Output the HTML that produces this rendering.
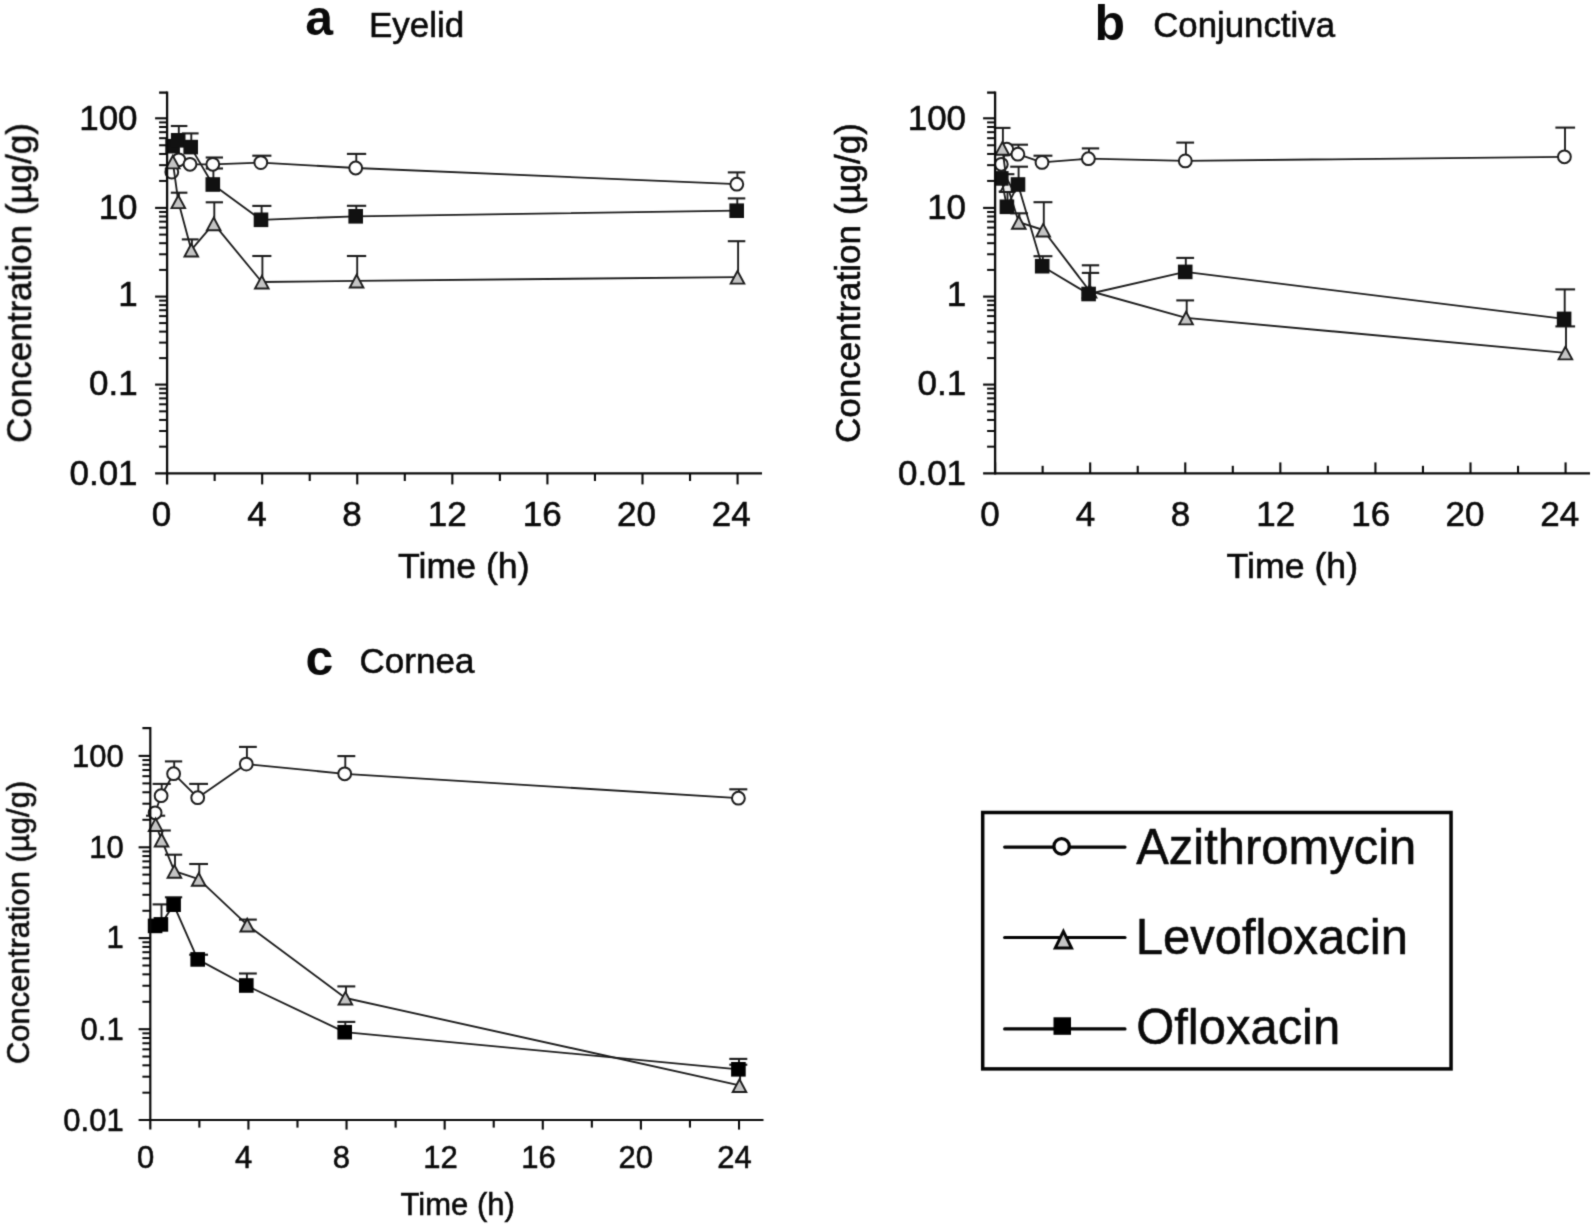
<!DOCTYPE html>
<html lang="en"><head><meta charset="utf-8"><title>Ocular tissue concentrations</title>
<style>
html,body{margin:0;padding:0;background:#fff;}
body{width:1595px;height:1226px;overflow:hidden;}
svg{display:block;font-family:'Liberation Sans', Arial, sans-serif;fill:#0a0a0a;}
svg text{fill:#0a0a0a;stroke:#0a0a0a;stroke-width:0.55px;}
</style></head><body>
<svg width="1595" height="1226" viewBox="0 0 1595 1226">
<defs><filter id="soft" x="0" y="0" width="1595" height="1226" filterUnits="userSpaceOnUse" color-interpolation-filters="sRGB"><feConvolveMatrix order="3" kernelMatrix="1 4 1 4 20 4 1 4 1" divisor="40" edgeMode="duplicate" preserveAlpha="false"/></filter></defs>
<rect width="1595" height="1226" fill="#fff"/>
<g filter="url(#soft)">
<line x1="213.40" y1="164.30" x2="213.40" y2="157.50" stroke="#1c1c1c" stroke-width="1.9" stroke-linecap="butt"/>
<line x1="205.70" y1="157.50" x2="223.00" y2="157.50" stroke="#1c1c1c" stroke-width="2.1" stroke-linecap="butt"/>
<line x1="261.40" y1="162.60" x2="261.40" y2="155.70" stroke="#1c1c1c" stroke-width="1.9" stroke-linecap="butt"/>
<line x1="252.30" y1="155.70" x2="271.40" y2="155.70" stroke="#1c1c1c" stroke-width="2.1" stroke-linecap="butt"/>
<line x1="356.30" y1="168.00" x2="356.30" y2="153.90" stroke="#1c1c1c" stroke-width="1.9" stroke-linecap="butt"/>
<line x1="346.90" y1="153.90" x2="366.20" y2="153.90" stroke="#1c1c1c" stroke-width="2.1" stroke-linecap="butt"/>
<line x1="737.40" y1="184.20" x2="737.40" y2="172.40" stroke="#1c1c1c" stroke-width="1.9" stroke-linecap="butt"/>
<line x1="727.80" y1="172.40" x2="745.30" y2="172.40" stroke="#1c1c1c" stroke-width="2.1" stroke-linecap="butt"/>
<line x1="178.90" y1="201.60" x2="178.90" y2="192.70" stroke="#1c1c1c" stroke-width="1.9" stroke-linecap="butt"/>
<line x1="170.80" y1="192.70" x2="187.40" y2="192.70" stroke="#1c1c1c" stroke-width="2.1" stroke-linecap="butt"/>
<line x1="191.90" y1="249.90" x2="191.90" y2="239.40" stroke="#1c1c1c" stroke-width="1.9" stroke-linecap="butt"/>
<line x1="181.80" y1="239.40" x2="198.60" y2="239.40" stroke="#1c1c1c" stroke-width="2.1" stroke-linecap="butt"/>
<line x1="214.30" y1="223.70" x2="214.30" y2="202.30" stroke="#1c1c1c" stroke-width="1.9" stroke-linecap="butt"/>
<line x1="205.70" y1="202.30" x2="223.00" y2="202.30" stroke="#1c1c1c" stroke-width="2.1" stroke-linecap="butt"/>
<line x1="262.40" y1="282.00" x2="262.40" y2="256.00" stroke="#1c1c1c" stroke-width="1.9" stroke-linecap="butt"/>
<line x1="252.30" y1="256.00" x2="271.40" y2="256.00" stroke="#1c1c1c" stroke-width="2.1" stroke-linecap="butt"/>
<line x1="357.20" y1="280.90" x2="357.20" y2="256.00" stroke="#1c1c1c" stroke-width="1.9" stroke-linecap="butt"/>
<line x1="346.90" y1="256.00" x2="366.20" y2="256.00" stroke="#1c1c1c" stroke-width="2.1" stroke-linecap="butt"/>
<line x1="738.10" y1="277.10" x2="738.10" y2="241.20" stroke="#1c1c1c" stroke-width="1.9" stroke-linecap="butt"/>
<line x1="727.80" y1="241.20" x2="745.30" y2="241.20" stroke="#1c1c1c" stroke-width="2.1" stroke-linecap="butt"/>
<line x1="178.80" y1="140.30" x2="178.80" y2="126.00" stroke="#1c1c1c" stroke-width="1.9" stroke-linecap="butt"/>
<line x1="170.80" y1="126.00" x2="187.40" y2="126.00" stroke="#1c1c1c" stroke-width="2.1" stroke-linecap="butt"/>
<line x1="191.30" y1="147.10" x2="191.30" y2="133.40" stroke="#1c1c1c" stroke-width="1.9" stroke-linecap="butt"/>
<line x1="181.80" y1="133.40" x2="198.60" y2="133.40" stroke="#1c1c1c" stroke-width="2.1" stroke-linecap="butt"/>
<line x1="213.40" y1="184.50" x2="213.40" y2="168.50" stroke="#1c1c1c" stroke-width="1.9" stroke-linecap="butt"/>
<line x1="205.70" y1="168.50" x2="223.00" y2="168.50" stroke="#1c1c1c" stroke-width="2.1" stroke-linecap="butt"/>
<line x1="261.60" y1="219.80" x2="261.60" y2="205.90" stroke="#1c1c1c" stroke-width="1.9" stroke-linecap="butt"/>
<line x1="252.30" y1="205.90" x2="271.40" y2="205.90" stroke="#1c1c1c" stroke-width="2.1" stroke-linecap="butt"/>
<line x1="356.30" y1="216.30" x2="356.30" y2="205.80" stroke="#1c1c1c" stroke-width="1.9" stroke-linecap="butt"/>
<line x1="346.90" y1="205.80" x2="366.20" y2="205.80" stroke="#1c1c1c" stroke-width="2.1" stroke-linecap="butt"/>
<line x1="737.30" y1="210.70" x2="737.30" y2="198.40" stroke="#1c1c1c" stroke-width="1.9" stroke-linecap="butt"/>
<line x1="727.80" y1="198.40" x2="745.30" y2="198.40" stroke="#1c1c1c" stroke-width="2.1" stroke-linecap="butt"/>
<polyline points="171.80,172.10 178.80,159.80 190.00,164.30 212.80,164.30 260.80,162.60 355.70,168.00 736.80,184.20" fill="none" stroke="#1c1c1c" stroke-width="1.85" stroke-linejoin="round"/>
<circle cx="171.80" cy="172.10" r="6.4" fill="#fff" stroke="#1c1c1c" stroke-width="2.0"/>
<circle cx="178.80" cy="159.80" r="6.4" fill="#fff" stroke="#1c1c1c" stroke-width="2.0"/>
<circle cx="190.00" cy="164.30" r="6.4" fill="#fff" stroke="#1c1c1c" stroke-width="2.0"/>
<circle cx="212.80" cy="164.30" r="6.4" fill="#fff" stroke="#1c1c1c" stroke-width="2.0"/>
<circle cx="260.80" cy="162.60" r="6.4" fill="#fff" stroke="#1c1c1c" stroke-width="2.0"/>
<circle cx="355.70" cy="168.00" r="6.4" fill="#fff" stroke="#1c1c1c" stroke-width="2.0"/>
<circle cx="736.80" cy="184.20" r="6.4" fill="#fff" stroke="#1c1c1c" stroke-width="2.0"/>
<polyline points="172.80,161.80 178.30,201.60 191.30,249.90 213.70,223.70 261.80,282.00 356.60,280.90 737.50,277.10" fill="none" stroke="#1c1c1c" stroke-width="1.85" stroke-linejoin="round"/>
<polygon points="172.80,155.70 166.00,168.35 179.60,168.35" fill="#c4c4c4" stroke="#1c1c1c" stroke-width="1.9" stroke-linejoin="miter"/>
<polygon points="178.30,195.50 171.50,208.15 185.10,208.15" fill="#c4c4c4" stroke="#1c1c1c" stroke-width="1.9" stroke-linejoin="miter"/>
<polygon points="191.30,243.80 184.50,256.45 198.10,256.45" fill="#c4c4c4" stroke="#1c1c1c" stroke-width="1.9" stroke-linejoin="miter"/>
<polygon points="213.70,217.60 206.90,230.25 220.50,230.25" fill="#c4c4c4" stroke="#1c1c1c" stroke-width="1.9" stroke-linejoin="miter"/>
<polygon points="261.80,275.90 255.00,288.55 268.60,288.55" fill="#c4c4c4" stroke="#1c1c1c" stroke-width="1.9" stroke-linejoin="miter"/>
<polygon points="356.60,274.80 349.80,287.45 363.40,287.45" fill="#c4c4c4" stroke="#1c1c1c" stroke-width="1.9" stroke-linejoin="miter"/>
<polygon points="737.50,271.00 730.70,283.65 744.30,283.65" fill="#c4c4c4" stroke="#1c1c1c" stroke-width="1.9" stroke-linejoin="miter"/>
<polyline points="172.60,146.20 178.20,140.30 190.70,147.10 212.80,184.50 261.00,219.80 355.70,216.30 736.70,210.70" fill="none" stroke="#1c1c1c" stroke-width="1.85" stroke-linejoin="round"/>
<rect x="165.30" y="138.90" width="14.6" height="14.6" fill="#111"/>
<rect x="170.90" y="133.00" width="14.6" height="14.6" fill="#111"/>
<rect x="183.40" y="139.80" width="14.6" height="14.6" fill="#111"/>
<rect x="205.50" y="177.20" width="14.6" height="14.6" fill="#111"/>
<rect x="253.70" y="212.50" width="14.6" height="14.6" fill="#111"/>
<rect x="348.40" y="209.00" width="14.6" height="14.6" fill="#111"/>
<rect x="729.40" y="203.40" width="14.6" height="14.6" fill="#111"/>
<line x1="167.10" y1="91.45" x2="167.10" y2="484.40" stroke="#0a0a0a" stroke-width="2.3" stroke-linecap="butt"/>
<line x1="155.10" y1="473.40" x2="762.00" y2="473.40" stroke="#0a0a0a" stroke-width="2.3" stroke-linecap="butt"/>
<line x1="159.10" y1="92.60" x2="167.10" y2="92.60" stroke="#0a0a0a" stroke-width="2.3" stroke-linecap="butt"/>
<line x1="155.10" y1="118.30" x2="167.10" y2="118.30" stroke="#0a0a0a" stroke-width="2.1" stroke-linecap="butt"/>
<line x1="159.10" y1="180.93" x2="167.10" y2="180.93" stroke="#0a0a0a" stroke-width="2.0" stroke-linecap="butt"/>
<line x1="159.10" y1="165.15" x2="167.10" y2="165.15" stroke="#0a0a0a" stroke-width="2.0" stroke-linecap="butt"/>
<line x1="159.10" y1="153.96" x2="167.10" y2="153.96" stroke="#0a0a0a" stroke-width="2.0" stroke-linecap="butt"/>
<line x1="159.10" y1="145.27" x2="167.10" y2="145.27" stroke="#0a0a0a" stroke-width="2.0" stroke-linecap="butt"/>
<line x1="159.10" y1="138.18" x2="167.10" y2="138.18" stroke="#0a0a0a" stroke-width="2.0" stroke-linecap="butt"/>
<line x1="159.10" y1="132.18" x2="167.10" y2="132.18" stroke="#0a0a0a" stroke-width="2.0" stroke-linecap="butt"/>
<line x1="159.10" y1="126.98" x2="167.10" y2="126.98" stroke="#0a0a0a" stroke-width="2.0" stroke-linecap="butt"/>
<line x1="159.10" y1="122.40" x2="167.10" y2="122.40" stroke="#0a0a0a" stroke-width="2.0" stroke-linecap="butt"/>
<line x1="155.10" y1="207.90" x2="167.10" y2="207.90" stroke="#0a0a0a" stroke-width="2.1" stroke-linecap="butt"/>
<line x1="159.10" y1="269.90" x2="167.10" y2="269.90" stroke="#0a0a0a" stroke-width="2.0" stroke-linecap="butt"/>
<line x1="159.10" y1="254.28" x2="167.10" y2="254.28" stroke="#0a0a0a" stroke-width="2.0" stroke-linecap="butt"/>
<line x1="159.10" y1="243.20" x2="167.10" y2="243.20" stroke="#0a0a0a" stroke-width="2.0" stroke-linecap="butt"/>
<line x1="159.10" y1="234.60" x2="167.10" y2="234.60" stroke="#0a0a0a" stroke-width="2.0" stroke-linecap="butt"/>
<line x1="159.10" y1="227.58" x2="167.10" y2="227.58" stroke="#0a0a0a" stroke-width="2.0" stroke-linecap="butt"/>
<line x1="159.10" y1="221.64" x2="167.10" y2="221.64" stroke="#0a0a0a" stroke-width="2.0" stroke-linecap="butt"/>
<line x1="159.10" y1="216.50" x2="167.10" y2="216.50" stroke="#0a0a0a" stroke-width="2.0" stroke-linecap="butt"/>
<line x1="159.10" y1="211.96" x2="167.10" y2="211.96" stroke="#0a0a0a" stroke-width="2.0" stroke-linecap="butt"/>
<line x1="155.10" y1="296.60" x2="167.10" y2="296.60" stroke="#0a0a0a" stroke-width="2.1" stroke-linecap="butt"/>
<line x1="159.10" y1="358.11" x2="167.10" y2="358.11" stroke="#0a0a0a" stroke-width="2.0" stroke-linecap="butt"/>
<line x1="159.10" y1="342.61" x2="167.10" y2="342.61" stroke="#0a0a0a" stroke-width="2.0" stroke-linecap="butt"/>
<line x1="159.10" y1="331.62" x2="167.10" y2="331.62" stroke="#0a0a0a" stroke-width="2.0" stroke-linecap="butt"/>
<line x1="159.10" y1="323.09" x2="167.10" y2="323.09" stroke="#0a0a0a" stroke-width="2.0" stroke-linecap="butt"/>
<line x1="159.10" y1="316.12" x2="167.10" y2="316.12" stroke="#0a0a0a" stroke-width="2.0" stroke-linecap="butt"/>
<line x1="159.10" y1="310.23" x2="167.10" y2="310.23" stroke="#0a0a0a" stroke-width="2.0" stroke-linecap="butt"/>
<line x1="159.10" y1="305.13" x2="167.10" y2="305.13" stroke="#0a0a0a" stroke-width="2.0" stroke-linecap="butt"/>
<line x1="159.10" y1="300.63" x2="167.10" y2="300.63" stroke="#0a0a0a" stroke-width="2.0" stroke-linecap="butt"/>
<line x1="155.10" y1="384.60" x2="167.10" y2="384.60" stroke="#0a0a0a" stroke-width="2.1" stroke-linecap="butt"/>
<line x1="159.10" y1="446.67" x2="167.10" y2="446.67" stroke="#0a0a0a" stroke-width="2.0" stroke-linecap="butt"/>
<line x1="159.10" y1="431.03" x2="167.10" y2="431.03" stroke="#0a0a0a" stroke-width="2.0" stroke-linecap="butt"/>
<line x1="159.10" y1="419.94" x2="167.10" y2="419.94" stroke="#0a0a0a" stroke-width="2.0" stroke-linecap="butt"/>
<line x1="159.10" y1="411.33" x2="167.10" y2="411.33" stroke="#0a0a0a" stroke-width="2.0" stroke-linecap="butt"/>
<line x1="159.10" y1="404.30" x2="167.10" y2="404.30" stroke="#0a0a0a" stroke-width="2.0" stroke-linecap="butt"/>
<line x1="159.10" y1="398.36" x2="167.10" y2="398.36" stroke="#0a0a0a" stroke-width="2.0" stroke-linecap="butt"/>
<line x1="159.10" y1="393.21" x2="167.10" y2="393.21" stroke="#0a0a0a" stroke-width="2.0" stroke-linecap="butt"/>
<line x1="159.10" y1="388.66" x2="167.10" y2="388.66" stroke="#0a0a0a" stroke-width="2.0" stroke-linecap="butt"/>
<line x1="214.64" y1="473.40" x2="214.64" y2="481.00" stroke="#0a0a0a" stroke-width="2.1" stroke-linecap="butt"/>
<line x1="262.18" y1="473.40" x2="262.18" y2="484.40" stroke="#0a0a0a" stroke-width="2.1" stroke-linecap="butt"/>
<line x1="309.72" y1="473.40" x2="309.72" y2="481.00" stroke="#0a0a0a" stroke-width="2.1" stroke-linecap="butt"/>
<line x1="357.26" y1="473.40" x2="357.26" y2="484.40" stroke="#0a0a0a" stroke-width="2.1" stroke-linecap="butt"/>
<line x1="404.80" y1="473.40" x2="404.80" y2="481.00" stroke="#0a0a0a" stroke-width="2.1" stroke-linecap="butt"/>
<line x1="452.34" y1="473.40" x2="452.34" y2="484.40" stroke="#0a0a0a" stroke-width="2.1" stroke-linecap="butt"/>
<line x1="499.88" y1="473.40" x2="499.88" y2="481.00" stroke="#0a0a0a" stroke-width="2.1" stroke-linecap="butt"/>
<line x1="547.42" y1="473.40" x2="547.42" y2="484.40" stroke="#0a0a0a" stroke-width="2.1" stroke-linecap="butt"/>
<line x1="594.96" y1="473.40" x2="594.96" y2="481.00" stroke="#0a0a0a" stroke-width="2.1" stroke-linecap="butt"/>
<line x1="642.50" y1="473.40" x2="642.50" y2="484.40" stroke="#0a0a0a" stroke-width="2.1" stroke-linecap="butt"/>
<line x1="690.04" y1="473.40" x2="690.04" y2="481.00" stroke="#0a0a0a" stroke-width="2.1" stroke-linecap="butt"/>
<line x1="737.58" y1="473.40" x2="737.58" y2="484.40" stroke="#0a0a0a" stroke-width="2.1" stroke-linecap="butt"/>
<text x="137.60" y="129.90" font-size="35" text-anchor="end" font-weight="normal">100</text>
<text x="137.60" y="219.30" font-size="35" text-anchor="end" font-weight="normal">10</text>
<text x="137.60" y="306.20" font-size="35" text-anchor="end" font-weight="normal">1</text>
<text x="137.60" y="395.30" font-size="35" text-anchor="end" font-weight="normal">0.1</text>
<text x="137.60" y="485.00" font-size="35" text-anchor="end" font-weight="normal">0.01</text>
<text x="161.50" y="526.20" font-size="35" text-anchor="middle" font-weight="normal">0</text>
<text x="257.00" y="526.20" font-size="35" text-anchor="middle" font-weight="normal">4</text>
<text x="352.00" y="526.20" font-size="35" text-anchor="middle" font-weight="normal">8</text>
<text x="447.20" y="526.20" font-size="35" text-anchor="middle" font-weight="normal">12</text>
<text x="542.20" y="526.20" font-size="35" text-anchor="middle" font-weight="normal">16</text>
<text x="636.50" y="526.20" font-size="35" text-anchor="middle" font-weight="normal">20</text>
<text x="731.30" y="526.20" font-size="35" text-anchor="middle" font-weight="normal">24</text>
<text x="463.80" y="578.10" font-size="35.7" text-anchor="middle" font-weight="normal">Time (h)</text>
<text x="31.20" y="283.00" font-size="35" text-anchor="middle" font-weight="normal" transform="rotate(-90 31.20 283.00)">Concentration (µg/g)</text>
<text x="305.20" y="35.20" font-size="50" text-anchor="start" font-weight="bold" style="stroke:none">a</text>
<text x="369.00" y="37.40" font-size="35" text-anchor="start" font-weight="normal">Eyelid</text>
<line x1="1018.50" y1="154.20" x2="1018.50" y2="144.70" stroke="#1c1c1c" stroke-width="1.9" stroke-linecap="butt"/>
<line x1="1010.20" y1="144.70" x2="1028.00" y2="144.70" stroke="#1c1c1c" stroke-width="2.1" stroke-linecap="butt"/>
<line x1="1042.60" y1="162.40" x2="1042.60" y2="155.70" stroke="#1c1c1c" stroke-width="1.9" stroke-linecap="butt"/>
<line x1="1033.50" y1="155.70" x2="1052.40" y2="155.70" stroke="#1c1c1c" stroke-width="2.1" stroke-linecap="butt"/>
<line x1="1089.00" y1="158.70" x2="1089.00" y2="148.40" stroke="#1c1c1c" stroke-width="1.9" stroke-linecap="butt"/>
<line x1="1081.80" y1="148.40" x2="1099.20" y2="148.40" stroke="#1c1c1c" stroke-width="2.1" stroke-linecap="butt"/>
<line x1="1185.90" y1="160.90" x2="1185.90" y2="142.60" stroke="#1c1c1c" stroke-width="1.9" stroke-linecap="butt"/>
<line x1="1176.30" y1="142.60" x2="1194.10" y2="142.60" stroke="#1c1c1c" stroke-width="2.1" stroke-linecap="butt"/>
<line x1="1565.00" y1="156.80" x2="1565.00" y2="127.60" stroke="#1c1c1c" stroke-width="1.9" stroke-linecap="butt"/>
<line x1="1555.40" y1="127.60" x2="1575.10" y2="127.60" stroke="#1c1c1c" stroke-width="2.1" stroke-linecap="butt"/>
<line x1="1002.90" y1="148.20" x2="1002.90" y2="127.90" stroke="#1c1c1c" stroke-width="1.9" stroke-linecap="butt"/>
<line x1="993.80" y1="127.90" x2="1010.50" y2="127.90" stroke="#1c1c1c" stroke-width="2.1" stroke-linecap="butt"/>
<line x1="1019.40" y1="222.20" x2="1019.40" y2="213.30" stroke="#1c1c1c" stroke-width="1.9" stroke-linecap="butt"/>
<line x1="1010.20" y1="213.30" x2="1028.00" y2="213.30" stroke="#1c1c1c" stroke-width="2.1" stroke-linecap="butt"/>
<line x1="1043.80" y1="230.00" x2="1043.80" y2="202.20" stroke="#1c1c1c" stroke-width="1.9" stroke-linecap="butt"/>
<line x1="1033.50" y1="202.20" x2="1052.40" y2="202.20" stroke="#1c1c1c" stroke-width="2.1" stroke-linecap="butt"/>
<line x1="1090.20" y1="291.00" x2="1090.20" y2="265.30" stroke="#1c1c1c" stroke-width="1.9" stroke-linecap="butt"/>
<line x1="1081.80" y1="265.30" x2="1099.20" y2="265.30" stroke="#1c1c1c" stroke-width="2.1" stroke-linecap="butt"/>
<line x1="1186.70" y1="317.80" x2="1186.70" y2="300.40" stroke="#1c1c1c" stroke-width="1.9" stroke-linecap="butt"/>
<line x1="1176.30" y1="300.40" x2="1194.10" y2="300.40" stroke="#1c1c1c" stroke-width="2.1" stroke-linecap="butt"/>
<line x1="1566.00" y1="352.80" x2="1566.00" y2="326.40" stroke="#1c1c1c" stroke-width="1.9" stroke-linecap="butt"/>
<line x1="1555.40" y1="326.40" x2="1575.10" y2="326.40" stroke="#1c1c1c" stroke-width="2.1" stroke-linecap="butt"/>
<line x1="1001.90" y1="178.40" x2="1001.90" y2="174.20" stroke="#1c1c1c" stroke-width="1.9" stroke-linecap="butt"/>
<line x1="995.50" y1="174.20" x2="1014.40" y2="174.20" stroke="#1c1c1c" stroke-width="2.1" stroke-linecap="butt"/>
<line x1="1007.50" y1="206.80" x2="1007.50" y2="191.50" stroke="#1c1c1c" stroke-width="1.9" stroke-linecap="butt"/>
<line x1="998.70" y1="191.50" x2="1015.70" y2="191.50" stroke="#1c1c1c" stroke-width="2.1" stroke-linecap="butt"/>
<line x1="1018.60" y1="184.50" x2="1018.60" y2="166.70" stroke="#1c1c1c" stroke-width="1.9" stroke-linecap="butt"/>
<line x1="1010.20" y1="166.70" x2="1028.00" y2="166.70" stroke="#1c1c1c" stroke-width="2.1" stroke-linecap="butt"/>
<line x1="1042.80" y1="266.20" x2="1042.80" y2="256.20" stroke="#1c1c1c" stroke-width="1.9" stroke-linecap="butt"/>
<line x1="1033.50" y1="256.20" x2="1052.40" y2="256.20" stroke="#1c1c1c" stroke-width="2.1" stroke-linecap="butt"/>
<line x1="1089.20" y1="294.00" x2="1089.20" y2="272.90" stroke="#1c1c1c" stroke-width="1.9" stroke-linecap="butt"/>
<line x1="1081.80" y1="272.90" x2="1099.20" y2="272.90" stroke="#1c1c1c" stroke-width="2.1" stroke-linecap="butt"/>
<line x1="1185.80" y1="271.90" x2="1185.80" y2="257.90" stroke="#1c1c1c" stroke-width="1.9" stroke-linecap="butt"/>
<line x1="1176.30" y1="257.90" x2="1194.10" y2="257.90" stroke="#1c1c1c" stroke-width="2.1" stroke-linecap="butt"/>
<line x1="1564.70" y1="318.90" x2="1564.70" y2="289.40" stroke="#1c1c1c" stroke-width="1.9" stroke-linecap="butt"/>
<line x1="1555.40" y1="289.40" x2="1575.10" y2="289.40" stroke="#1c1c1c" stroke-width="2.1" stroke-linecap="butt"/>
<polyline points="1001.30,164.30 1006.80,149.20 1017.90,154.20 1042.00,162.40 1088.40,158.70 1185.30,160.90 1564.40,156.80" fill="none" stroke="#1c1c1c" stroke-width="1.85" stroke-linejoin="round"/>
<circle cx="1001.30" cy="164.30" r="6.4" fill="#fff" stroke="#1c1c1c" stroke-width="2.0"/>
<circle cx="1006.80" cy="149.20" r="6.4" fill="#fff" stroke="#1c1c1c" stroke-width="2.0"/>
<circle cx="1017.90" cy="154.20" r="6.4" fill="#fff" stroke="#1c1c1c" stroke-width="2.0"/>
<circle cx="1042.00" cy="162.40" r="6.4" fill="#fff" stroke="#1c1c1c" stroke-width="2.0"/>
<circle cx="1088.40" cy="158.70" r="6.4" fill="#fff" stroke="#1c1c1c" stroke-width="2.0"/>
<circle cx="1185.30" cy="160.90" r="6.4" fill="#fff" stroke="#1c1c1c" stroke-width="2.0"/>
<circle cx="1564.40" cy="156.80" r="6.4" fill="#fff" stroke="#1c1c1c" stroke-width="2.0"/>
<polyline points="1002.30,148.20 1007.20,185.50 1018.80,222.20 1043.20,230.00 1089.60,291.00 1186.10,317.80 1565.40,352.80" fill="none" stroke="#1c1c1c" stroke-width="1.85" stroke-linejoin="round"/>
<polygon points="1002.30,142.10 995.50,154.75 1009.10,154.75" fill="#c4c4c4" stroke="#1c1c1c" stroke-width="1.9" stroke-linejoin="miter"/>
<polygon points="1007.20,179.40 1000.40,192.05 1014.00,192.05" fill="#ececec" stroke="#1c1c1c" stroke-width="1.9" stroke-linejoin="miter"/>
<polygon points="1018.80,216.10 1012.00,228.75 1025.60,228.75" fill="#c4c4c4" stroke="#1c1c1c" stroke-width="1.9" stroke-linejoin="miter"/>
<polygon points="1043.20,223.90 1036.40,236.55 1050.00,236.55" fill="#c4c4c4" stroke="#1c1c1c" stroke-width="1.9" stroke-linejoin="miter"/>
<polygon points="1089.60,284.90 1082.80,297.55 1096.40,297.55" fill="#c4c4c4" stroke="#1c1c1c" stroke-width="1.9" stroke-linejoin="miter"/>
<polygon points="1186.10,311.70 1179.30,324.35 1192.90,324.35" fill="#c4c4c4" stroke="#1c1c1c" stroke-width="1.9" stroke-linejoin="miter"/>
<polygon points="1565.40,346.70 1558.60,359.35 1572.20,359.35" fill="#c4c4c4" stroke="#1c1c1c" stroke-width="1.9" stroke-linejoin="miter"/>
<polyline points="1001.30,178.40 1006.90,206.80 1018.00,184.50 1042.20,266.20 1088.60,294.00 1185.20,271.90 1564.10,318.90" fill="none" stroke="#1c1c1c" stroke-width="1.85" stroke-linejoin="round"/>
<rect x="994.00" y="171.10" width="14.6" height="14.6" fill="#111"/>
<rect x="999.60" y="199.50" width="14.6" height="14.6" fill="#111"/>
<rect x="1010.70" y="177.20" width="14.6" height="14.6" fill="#111"/>
<rect x="1034.90" y="258.90" width="14.6" height="14.6" fill="#111"/>
<rect x="1081.30" y="286.70" width="14.6" height="14.6" fill="#111"/>
<rect x="1177.90" y="264.60" width="14.6" height="14.6" fill="#111"/>
<rect x="1556.80" y="311.60" width="14.6" height="14.6" fill="#111"/>
<line x1="995.10" y1="91.45" x2="995.10" y2="474.50" stroke="#0a0a0a" stroke-width="2.3" stroke-linecap="butt"/>
<line x1="983.10" y1="473.40" x2="1590.00" y2="473.40" stroke="#0a0a0a" stroke-width="2.3" stroke-linecap="butt"/>
<line x1="987.10" y1="92.60" x2="995.10" y2="92.60" stroke="#0a0a0a" stroke-width="2.3" stroke-linecap="butt"/>
<line x1="983.10" y1="118.30" x2="995.10" y2="118.30" stroke="#0a0a0a" stroke-width="2.1" stroke-linecap="butt"/>
<line x1="987.10" y1="180.93" x2="995.10" y2="180.93" stroke="#0a0a0a" stroke-width="2.0" stroke-linecap="butt"/>
<line x1="987.10" y1="165.15" x2="995.10" y2="165.15" stroke="#0a0a0a" stroke-width="2.0" stroke-linecap="butt"/>
<line x1="987.10" y1="153.96" x2="995.10" y2="153.96" stroke="#0a0a0a" stroke-width="2.0" stroke-linecap="butt"/>
<line x1="987.10" y1="145.27" x2="995.10" y2="145.27" stroke="#0a0a0a" stroke-width="2.0" stroke-linecap="butt"/>
<line x1="987.10" y1="138.18" x2="995.10" y2="138.18" stroke="#0a0a0a" stroke-width="2.0" stroke-linecap="butt"/>
<line x1="987.10" y1="132.18" x2="995.10" y2="132.18" stroke="#0a0a0a" stroke-width="2.0" stroke-linecap="butt"/>
<line x1="987.10" y1="126.98" x2="995.10" y2="126.98" stroke="#0a0a0a" stroke-width="2.0" stroke-linecap="butt"/>
<line x1="987.10" y1="122.40" x2="995.10" y2="122.40" stroke="#0a0a0a" stroke-width="2.0" stroke-linecap="butt"/>
<line x1="983.10" y1="207.90" x2="995.10" y2="207.90" stroke="#0a0a0a" stroke-width="2.1" stroke-linecap="butt"/>
<line x1="987.10" y1="269.90" x2="995.10" y2="269.90" stroke="#0a0a0a" stroke-width="2.0" stroke-linecap="butt"/>
<line x1="987.10" y1="254.28" x2="995.10" y2="254.28" stroke="#0a0a0a" stroke-width="2.0" stroke-linecap="butt"/>
<line x1="987.10" y1="243.20" x2="995.10" y2="243.20" stroke="#0a0a0a" stroke-width="2.0" stroke-linecap="butt"/>
<line x1="987.10" y1="234.60" x2="995.10" y2="234.60" stroke="#0a0a0a" stroke-width="2.0" stroke-linecap="butt"/>
<line x1="987.10" y1="227.58" x2="995.10" y2="227.58" stroke="#0a0a0a" stroke-width="2.0" stroke-linecap="butt"/>
<line x1="987.10" y1="221.64" x2="995.10" y2="221.64" stroke="#0a0a0a" stroke-width="2.0" stroke-linecap="butt"/>
<line x1="987.10" y1="216.50" x2="995.10" y2="216.50" stroke="#0a0a0a" stroke-width="2.0" stroke-linecap="butt"/>
<line x1="987.10" y1="211.96" x2="995.10" y2="211.96" stroke="#0a0a0a" stroke-width="2.0" stroke-linecap="butt"/>
<line x1="983.10" y1="296.60" x2="995.10" y2="296.60" stroke="#0a0a0a" stroke-width="2.1" stroke-linecap="butt"/>
<line x1="987.10" y1="358.11" x2="995.10" y2="358.11" stroke="#0a0a0a" stroke-width="2.0" stroke-linecap="butt"/>
<line x1="987.10" y1="342.61" x2="995.10" y2="342.61" stroke="#0a0a0a" stroke-width="2.0" stroke-linecap="butt"/>
<line x1="987.10" y1="331.62" x2="995.10" y2="331.62" stroke="#0a0a0a" stroke-width="2.0" stroke-linecap="butt"/>
<line x1="987.10" y1="323.09" x2="995.10" y2="323.09" stroke="#0a0a0a" stroke-width="2.0" stroke-linecap="butt"/>
<line x1="987.10" y1="316.12" x2="995.10" y2="316.12" stroke="#0a0a0a" stroke-width="2.0" stroke-linecap="butt"/>
<line x1="987.10" y1="310.23" x2="995.10" y2="310.23" stroke="#0a0a0a" stroke-width="2.0" stroke-linecap="butt"/>
<line x1="987.10" y1="305.13" x2="995.10" y2="305.13" stroke="#0a0a0a" stroke-width="2.0" stroke-linecap="butt"/>
<line x1="987.10" y1="300.63" x2="995.10" y2="300.63" stroke="#0a0a0a" stroke-width="2.0" stroke-linecap="butt"/>
<line x1="983.10" y1="384.60" x2="995.10" y2="384.60" stroke="#0a0a0a" stroke-width="2.1" stroke-linecap="butt"/>
<line x1="987.10" y1="446.67" x2="995.10" y2="446.67" stroke="#0a0a0a" stroke-width="2.0" stroke-linecap="butt"/>
<line x1="987.10" y1="431.03" x2="995.10" y2="431.03" stroke="#0a0a0a" stroke-width="2.0" stroke-linecap="butt"/>
<line x1="987.10" y1="419.94" x2="995.10" y2="419.94" stroke="#0a0a0a" stroke-width="2.0" stroke-linecap="butt"/>
<line x1="987.10" y1="411.33" x2="995.10" y2="411.33" stroke="#0a0a0a" stroke-width="2.0" stroke-linecap="butt"/>
<line x1="987.10" y1="404.30" x2="995.10" y2="404.30" stroke="#0a0a0a" stroke-width="2.0" stroke-linecap="butt"/>
<line x1="987.10" y1="398.36" x2="995.10" y2="398.36" stroke="#0a0a0a" stroke-width="2.0" stroke-linecap="butt"/>
<line x1="987.10" y1="393.21" x2="995.10" y2="393.21" stroke="#0a0a0a" stroke-width="2.0" stroke-linecap="butt"/>
<line x1="987.10" y1="388.66" x2="995.10" y2="388.66" stroke="#0a0a0a" stroke-width="2.0" stroke-linecap="butt"/>
<line x1="995.10" y1="473.40" x2="995.10" y2="462.40" stroke="#0a0a0a" stroke-width="2.1" stroke-linecap="butt"/>
<line x1="1042.64" y1="473.40" x2="1042.64" y2="465.80" stroke="#0a0a0a" stroke-width="2.1" stroke-linecap="butt"/>
<line x1="1090.18" y1="473.40" x2="1090.18" y2="462.40" stroke="#0a0a0a" stroke-width="2.1" stroke-linecap="butt"/>
<line x1="1137.72" y1="473.40" x2="1137.72" y2="465.80" stroke="#0a0a0a" stroke-width="2.1" stroke-linecap="butt"/>
<line x1="1185.26" y1="473.40" x2="1185.26" y2="462.40" stroke="#0a0a0a" stroke-width="2.1" stroke-linecap="butt"/>
<line x1="1232.80" y1="473.40" x2="1232.80" y2="465.80" stroke="#0a0a0a" stroke-width="2.1" stroke-linecap="butt"/>
<line x1="1280.34" y1="473.40" x2="1280.34" y2="462.40" stroke="#0a0a0a" stroke-width="2.1" stroke-linecap="butt"/>
<line x1="1327.88" y1="473.40" x2="1327.88" y2="465.80" stroke="#0a0a0a" stroke-width="2.1" stroke-linecap="butt"/>
<line x1="1375.42" y1="473.40" x2="1375.42" y2="462.40" stroke="#0a0a0a" stroke-width="2.1" stroke-linecap="butt"/>
<line x1="1422.96" y1="473.40" x2="1422.96" y2="465.80" stroke="#0a0a0a" stroke-width="2.1" stroke-linecap="butt"/>
<line x1="1470.50" y1="473.40" x2="1470.50" y2="462.40" stroke="#0a0a0a" stroke-width="2.1" stroke-linecap="butt"/>
<line x1="1518.04" y1="473.40" x2="1518.04" y2="465.80" stroke="#0a0a0a" stroke-width="2.1" stroke-linecap="butt"/>
<line x1="1565.58" y1="473.40" x2="1565.58" y2="462.40" stroke="#0a0a0a" stroke-width="2.1" stroke-linecap="butt"/>
<text x="966.10" y="129.90" font-size="35" text-anchor="end" font-weight="normal">100</text>
<text x="966.10" y="219.30" font-size="35" text-anchor="end" font-weight="normal">10</text>
<text x="966.10" y="306.20" font-size="35" text-anchor="end" font-weight="normal">1</text>
<text x="966.10" y="395.30" font-size="35" text-anchor="end" font-weight="normal">0.1</text>
<text x="966.10" y="485.00" font-size="35" text-anchor="end" font-weight="normal">0.01</text>
<text x="990.00" y="526.20" font-size="35" text-anchor="middle" font-weight="normal">0</text>
<text x="1085.50" y="526.20" font-size="35" text-anchor="middle" font-weight="normal">4</text>
<text x="1180.50" y="526.20" font-size="35" text-anchor="middle" font-weight="normal">8</text>
<text x="1275.70" y="526.20" font-size="35" text-anchor="middle" font-weight="normal">12</text>
<text x="1370.70" y="526.20" font-size="35" text-anchor="middle" font-weight="normal">16</text>
<text x="1465.00" y="526.20" font-size="35" text-anchor="middle" font-weight="normal">20</text>
<text x="1559.80" y="526.20" font-size="35" text-anchor="middle" font-weight="normal">24</text>
<text x="1292.30" y="578.10" font-size="35.7" text-anchor="middle" font-weight="normal">Time (h)</text>
<text x="859.70" y="283.00" font-size="35" text-anchor="middle" font-weight="normal" transform="rotate(-90 859.70 283.00)">Concentration (µg/g)</text>
<text x="1094.40" y="39.50" font-size="50" text-anchor="start" font-weight="bold" style="stroke:none">b</text>
<text x="1153.20" y="37.40" font-size="34.8" text-anchor="start" font-weight="normal">Conjunctiva</text>
<line x1="161.70" y1="795.70" x2="161.70" y2="783.90" stroke="#1c1c1c" stroke-width="1.9" stroke-linecap="butt"/>
<line x1="152.60" y1="783.90" x2="170.80" y2="783.90" stroke="#1c1c1c" stroke-width="2.1" stroke-linecap="butt"/>
<line x1="174.20" y1="773.70" x2="174.20" y2="761.40" stroke="#1c1c1c" stroke-width="1.9" stroke-linecap="butt"/>
<line x1="164.90" y1="761.40" x2="182.20" y2="761.40" stroke="#1c1c1c" stroke-width="2.1" stroke-linecap="butt"/>
<line x1="198.30" y1="797.70" x2="198.30" y2="783.90" stroke="#1c1c1c" stroke-width="1.9" stroke-linecap="butt"/>
<line x1="189.20" y1="783.90" x2="208.00" y2="783.90" stroke="#1c1c1c" stroke-width="2.1" stroke-linecap="butt"/>
<line x1="246.90" y1="764.10" x2="246.90" y2="746.90" stroke="#1c1c1c" stroke-width="1.9" stroke-linecap="butt"/>
<line x1="239.00" y1="746.90" x2="256.80" y2="746.90" stroke="#1c1c1c" stroke-width="2.1" stroke-linecap="butt"/>
<line x1="345.30" y1="773.80" x2="345.30" y2="756.10" stroke="#1c1c1c" stroke-width="1.9" stroke-linecap="butt"/>
<line x1="337.40" y1="756.10" x2="355.30" y2="756.10" stroke="#1c1c1c" stroke-width="2.1" stroke-linecap="butt"/>
<line x1="739.00" y1="798.20" x2="739.00" y2="789.30" stroke="#1c1c1c" stroke-width="1.9" stroke-linecap="butt"/>
<line x1="729.30" y1="789.30" x2="747.30" y2="789.30" stroke="#1c1c1c" stroke-width="2.1" stroke-linecap="butt"/>
<line x1="156.20" y1="824.50" x2="156.20" y2="815.70" stroke="#1c1c1c" stroke-width="1.9" stroke-linecap="butt"/>
<line x1="146.00" y1="815.70" x2="165.20" y2="815.70" stroke="#1c1c1c" stroke-width="2.1" stroke-linecap="butt"/>
<line x1="162.20" y1="839.90" x2="162.20" y2="830.50" stroke="#1c1c1c" stroke-width="1.9" stroke-linecap="butt"/>
<line x1="152.60" y1="830.50" x2="170.80" y2="830.50" stroke="#1c1c1c" stroke-width="2.1" stroke-linecap="butt"/>
<line x1="175.00" y1="871.20" x2="175.00" y2="854.70" stroke="#1c1c1c" stroke-width="1.9" stroke-linecap="butt"/>
<line x1="164.90" y1="854.70" x2="182.20" y2="854.70" stroke="#1c1c1c" stroke-width="2.1" stroke-linecap="butt"/>
<line x1="199.30" y1="879.20" x2="199.30" y2="864.00" stroke="#1c1c1c" stroke-width="1.9" stroke-linecap="butt"/>
<line x1="189.20" y1="864.00" x2="208.00" y2="864.00" stroke="#1c1c1c" stroke-width="2.1" stroke-linecap="butt"/>
<line x1="247.80" y1="924.90" x2="247.80" y2="919.60" stroke="#1c1c1c" stroke-width="1.9" stroke-linecap="butt"/>
<line x1="239.00" y1="919.60" x2="256.80" y2="919.60" stroke="#1c1c1c" stroke-width="2.1" stroke-linecap="butt"/>
<line x1="346.00" y1="998.00" x2="346.00" y2="986.40" stroke="#1c1c1c" stroke-width="1.9" stroke-linecap="butt"/>
<line x1="337.40" y1="986.40" x2="355.30" y2="986.40" stroke="#1c1c1c" stroke-width="2.1" stroke-linecap="butt"/>
<line x1="740.10" y1="1085.40" x2="740.10" y2="1064.70" stroke="#1c1c1c" stroke-width="1.9" stroke-linecap="butt"/>
<line x1="729.30" y1="1064.70" x2="747.30" y2="1064.70" stroke="#1c1c1c" stroke-width="2.1" stroke-linecap="butt"/>
<line x1="161.50" y1="924.40" x2="161.50" y2="904.40" stroke="#1c1c1c" stroke-width="1.9" stroke-linecap="butt"/>
<line x1="152.60" y1="904.40" x2="170.80" y2="904.40" stroke="#1c1c1c" stroke-width="2.1" stroke-linecap="butt"/>
<line x1="174.20" y1="904.70" x2="174.20" y2="897.30" stroke="#1c1c1c" stroke-width="1.9" stroke-linecap="butt"/>
<line x1="164.90" y1="897.30" x2="182.20" y2="897.30" stroke="#1c1c1c" stroke-width="2.1" stroke-linecap="butt"/>
<line x1="198.30" y1="959.40" x2="198.30" y2="954.70" stroke="#1c1c1c" stroke-width="1.9" stroke-linecap="butt"/>
<line x1="189.20" y1="954.70" x2="208.00" y2="954.70" stroke="#1c1c1c" stroke-width="2.1" stroke-linecap="butt"/>
<line x1="246.90" y1="985.50" x2="246.90" y2="973.50" stroke="#1c1c1c" stroke-width="1.9" stroke-linecap="butt"/>
<line x1="239.00" y1="973.50" x2="256.80" y2="973.50" stroke="#1c1c1c" stroke-width="2.1" stroke-linecap="butt"/>
<line x1="345.30" y1="1032.20" x2="345.30" y2="1021.90" stroke="#1c1c1c" stroke-width="1.9" stroke-linecap="butt"/>
<line x1="337.40" y1="1021.90" x2="355.30" y2="1021.90" stroke="#1c1c1c" stroke-width="2.1" stroke-linecap="butt"/>
<line x1="739.00" y1="1069.30" x2="739.00" y2="1058.90" stroke="#1c1c1c" stroke-width="1.9" stroke-linecap="butt"/>
<line x1="729.30" y1="1058.90" x2="747.30" y2="1058.90" stroke="#1c1c1c" stroke-width="2.1" stroke-linecap="butt"/>
<polyline points="155.10,812.80 161.10,795.70 173.60,773.70 197.70,797.70 246.30,764.10 344.70,773.80 738.40,798.20" fill="none" stroke="#1c1c1c" stroke-width="1.85" stroke-linejoin="round"/>
<circle cx="155.10" cy="812.80" r="6.4" fill="#fff" stroke="#1c1c1c" stroke-width="2.0"/>
<circle cx="161.10" cy="795.70" r="6.4" fill="#fff" stroke="#1c1c1c" stroke-width="2.0"/>
<circle cx="173.60" cy="773.70" r="6.4" fill="#fff" stroke="#1c1c1c" stroke-width="2.0"/>
<circle cx="197.70" cy="797.70" r="6.4" fill="#fff" stroke="#1c1c1c" stroke-width="2.0"/>
<circle cx="246.30" cy="764.10" r="6.4" fill="#fff" stroke="#1c1c1c" stroke-width="2.0"/>
<circle cx="344.70" cy="773.80" r="6.4" fill="#fff" stroke="#1c1c1c" stroke-width="2.0"/>
<circle cx="738.40" cy="798.20" r="6.4" fill="#fff" stroke="#1c1c1c" stroke-width="2.0"/>
<polyline points="155.60,824.50 161.60,839.90 174.40,871.20 198.70,879.20 247.20,924.90 345.40,998.00 739.50,1085.40" fill="none" stroke="#1c1c1c" stroke-width="1.85" stroke-linejoin="round"/>
<polygon points="155.60,818.40 148.80,831.05 162.40,831.05" fill="#c4c4c4" stroke="#1c1c1c" stroke-width="1.9" stroke-linejoin="miter"/>
<polygon points="161.60,833.80 154.80,846.45 168.40,846.45" fill="#c4c4c4" stroke="#1c1c1c" stroke-width="1.9" stroke-linejoin="miter"/>
<polygon points="174.40,865.10 167.60,877.75 181.20,877.75" fill="#c4c4c4" stroke="#1c1c1c" stroke-width="1.9" stroke-linejoin="miter"/>
<polygon points="198.70,873.10 191.90,885.75 205.50,885.75" fill="#c4c4c4" stroke="#1c1c1c" stroke-width="1.9" stroke-linejoin="miter"/>
<polygon points="247.20,918.80 240.40,931.45 254.00,931.45" fill="#c4c4c4" stroke="#1c1c1c" stroke-width="1.9" stroke-linejoin="miter"/>
<polygon points="345.40,991.90 338.60,1004.55 352.20,1004.55" fill="#c4c4c4" stroke="#1c1c1c" stroke-width="1.9" stroke-linejoin="miter"/>
<polygon points="739.50,1079.30 732.70,1091.95 746.30,1091.95" fill="#c4c4c4" stroke="#1c1c1c" stroke-width="1.9" stroke-linejoin="miter"/>
<polyline points="155.10,925.90 160.90,924.40 173.60,904.70 197.70,959.40 246.30,985.50 344.70,1032.20 738.40,1069.30" fill="none" stroke="#1c1c1c" stroke-width="1.85" stroke-linejoin="round"/>
<rect x="147.80" y="918.60" width="14.6" height="14.6" fill="#000"/>
<rect x="153.60" y="917.10" width="14.6" height="14.6" fill="#000"/>
<rect x="166.30" y="897.40" width="14.6" height="14.6" fill="#000"/>
<rect x="190.40" y="952.10" width="14.6" height="14.6" fill="#000"/>
<rect x="239.00" y="978.20" width="14.6" height="14.6" fill="#000"/>
<rect x="337.40" y="1024.90" width="14.6" height="14.6" fill="#000"/>
<rect x="731.10" y="1062.00" width="14.6" height="14.6" fill="#000"/>
<line x1="150.30" y1="727.00" x2="150.30" y2="1129.60" stroke="#0a0a0a" stroke-width="2.2" stroke-linecap="butt"/>
<line x1="138.60" y1="1120.00" x2="763.50" y2="1120.00" stroke="#0a0a0a" stroke-width="2.2" stroke-linecap="butt"/>
<line x1="142.40" y1="728.10" x2="150.30" y2="728.10" stroke="#0a0a0a" stroke-width="2.2" stroke-linecap="butt"/>
<line x1="138.60" y1="755.90" x2="150.30" y2="755.90" stroke="#0a0a0a" stroke-width="2.1" stroke-linecap="butt"/>
<line x1="142.40" y1="819.79" x2="150.30" y2="819.79" stroke="#0a0a0a" stroke-width="2.0" stroke-linecap="butt"/>
<line x1="142.40" y1="803.69" x2="150.30" y2="803.69" stroke="#0a0a0a" stroke-width="2.0" stroke-linecap="butt"/>
<line x1="142.40" y1="792.27" x2="150.30" y2="792.27" stroke="#0a0a0a" stroke-width="2.0" stroke-linecap="butt"/>
<line x1="142.40" y1="783.41" x2="150.30" y2="783.41" stroke="#0a0a0a" stroke-width="2.0" stroke-linecap="butt"/>
<line x1="142.40" y1="776.18" x2="150.30" y2="776.18" stroke="#0a0a0a" stroke-width="2.0" stroke-linecap="butt"/>
<line x1="142.40" y1="770.06" x2="150.30" y2="770.06" stroke="#0a0a0a" stroke-width="2.0" stroke-linecap="butt"/>
<line x1="142.40" y1="764.76" x2="150.30" y2="764.76" stroke="#0a0a0a" stroke-width="2.0" stroke-linecap="butt"/>
<line x1="142.40" y1="760.08" x2="150.30" y2="760.08" stroke="#0a0a0a" stroke-width="2.0" stroke-linecap="butt"/>
<line x1="138.60" y1="847.30" x2="150.30" y2="847.30" stroke="#0a0a0a" stroke-width="2.1" stroke-linecap="butt"/>
<line x1="142.40" y1="910.77" x2="150.30" y2="910.77" stroke="#0a0a0a" stroke-width="2.0" stroke-linecap="butt"/>
<line x1="142.40" y1="894.78" x2="150.30" y2="894.78" stroke="#0a0a0a" stroke-width="2.0" stroke-linecap="butt"/>
<line x1="142.40" y1="883.43" x2="150.30" y2="883.43" stroke="#0a0a0a" stroke-width="2.0" stroke-linecap="butt"/>
<line x1="142.40" y1="874.63" x2="150.30" y2="874.63" stroke="#0a0a0a" stroke-width="2.0" stroke-linecap="butt"/>
<line x1="142.40" y1="867.44" x2="150.30" y2="867.44" stroke="#0a0a0a" stroke-width="2.0" stroke-linecap="butt"/>
<line x1="142.40" y1="861.37" x2="150.30" y2="861.37" stroke="#0a0a0a" stroke-width="2.0" stroke-linecap="butt"/>
<line x1="142.40" y1="856.10" x2="150.30" y2="856.10" stroke="#0a0a0a" stroke-width="2.0" stroke-linecap="butt"/>
<line x1="142.40" y1="851.45" x2="150.30" y2="851.45" stroke="#0a0a0a" stroke-width="2.0" stroke-linecap="butt"/>
<line x1="138.60" y1="938.10" x2="150.30" y2="938.10" stroke="#0a0a0a" stroke-width="2.1" stroke-linecap="butt"/>
<line x1="142.40" y1="1001.78" x2="150.30" y2="1001.78" stroke="#0a0a0a" stroke-width="2.0" stroke-linecap="butt"/>
<line x1="142.40" y1="985.73" x2="150.30" y2="985.73" stroke="#0a0a0a" stroke-width="2.0" stroke-linecap="butt"/>
<line x1="142.40" y1="974.35" x2="150.30" y2="974.35" stroke="#0a0a0a" stroke-width="2.0" stroke-linecap="butt"/>
<line x1="142.40" y1="965.52" x2="150.30" y2="965.52" stroke="#0a0a0a" stroke-width="2.0" stroke-linecap="butt"/>
<line x1="142.40" y1="958.31" x2="150.30" y2="958.31" stroke="#0a0a0a" stroke-width="2.0" stroke-linecap="butt"/>
<line x1="142.40" y1="952.21" x2="150.30" y2="952.21" stroke="#0a0a0a" stroke-width="2.0" stroke-linecap="butt"/>
<line x1="142.40" y1="946.93" x2="150.30" y2="946.93" stroke="#0a0a0a" stroke-width="2.0" stroke-linecap="butt"/>
<line x1="142.40" y1="942.27" x2="150.30" y2="942.27" stroke="#0a0a0a" stroke-width="2.0" stroke-linecap="butt"/>
<line x1="138.60" y1="1029.20" x2="150.30" y2="1029.20" stroke="#0a0a0a" stroke-width="2.1" stroke-linecap="butt"/>
<line x1="142.40" y1="1092.67" x2="150.30" y2="1092.67" stroke="#0a0a0a" stroke-width="2.0" stroke-linecap="butt"/>
<line x1="142.40" y1="1076.68" x2="150.30" y2="1076.68" stroke="#0a0a0a" stroke-width="2.0" stroke-linecap="butt"/>
<line x1="142.40" y1="1065.33" x2="150.30" y2="1065.33" stroke="#0a0a0a" stroke-width="2.0" stroke-linecap="butt"/>
<line x1="142.40" y1="1056.53" x2="150.30" y2="1056.53" stroke="#0a0a0a" stroke-width="2.0" stroke-linecap="butt"/>
<line x1="142.40" y1="1049.34" x2="150.30" y2="1049.34" stroke="#0a0a0a" stroke-width="2.0" stroke-linecap="butt"/>
<line x1="142.40" y1="1043.27" x2="150.30" y2="1043.27" stroke="#0a0a0a" stroke-width="2.0" stroke-linecap="butt"/>
<line x1="142.40" y1="1038.00" x2="150.30" y2="1038.00" stroke="#0a0a0a" stroke-width="2.0" stroke-linecap="butt"/>
<line x1="142.40" y1="1033.35" x2="150.30" y2="1033.35" stroke="#0a0a0a" stroke-width="2.0" stroke-linecap="butt"/>
<line x1="199.36" y1="1120.00" x2="199.36" y2="1127.60" stroke="#0a0a0a" stroke-width="2.1" stroke-linecap="butt"/>
<line x1="248.42" y1="1120.00" x2="248.42" y2="1129.60" stroke="#0a0a0a" stroke-width="2.1" stroke-linecap="butt"/>
<line x1="297.48" y1="1120.00" x2="297.48" y2="1127.60" stroke="#0a0a0a" stroke-width="2.1" stroke-linecap="butt"/>
<line x1="346.54" y1="1120.00" x2="346.54" y2="1129.60" stroke="#0a0a0a" stroke-width="2.1" stroke-linecap="butt"/>
<line x1="395.60" y1="1120.00" x2="395.60" y2="1127.60" stroke="#0a0a0a" stroke-width="2.1" stroke-linecap="butt"/>
<line x1="444.66" y1="1120.00" x2="444.66" y2="1129.60" stroke="#0a0a0a" stroke-width="2.1" stroke-linecap="butt"/>
<line x1="493.72" y1="1120.00" x2="493.72" y2="1127.60" stroke="#0a0a0a" stroke-width="2.1" stroke-linecap="butt"/>
<line x1="542.78" y1="1120.00" x2="542.78" y2="1129.60" stroke="#0a0a0a" stroke-width="2.1" stroke-linecap="butt"/>
<line x1="591.84" y1="1120.00" x2="591.84" y2="1127.60" stroke="#0a0a0a" stroke-width="2.1" stroke-linecap="butt"/>
<line x1="640.90" y1="1120.00" x2="640.90" y2="1129.60" stroke="#0a0a0a" stroke-width="2.1" stroke-linecap="butt"/>
<line x1="689.96" y1="1120.00" x2="689.96" y2="1127.60" stroke="#0a0a0a" stroke-width="2.1" stroke-linecap="butt"/>
<line x1="739.02" y1="1120.00" x2="739.02" y2="1129.60" stroke="#0a0a0a" stroke-width="2.1" stroke-linecap="butt"/>
<text x="123.70" y="766.90" font-size="31" text-anchor="end" font-weight="normal">100</text>
<text x="123.70" y="858.40" font-size="31" text-anchor="end" font-weight="normal">10</text>
<text x="123.70" y="948.40" font-size="31" text-anchor="end" font-weight="normal">1</text>
<text x="123.70" y="1040.20" font-size="31" text-anchor="end" font-weight="normal">0.1</text>
<text x="123.70" y="1131.00" font-size="31" text-anchor="end" font-weight="normal">0.01</text>
<text x="145.60" y="1167.60" font-size="31" text-anchor="middle" font-weight="normal">0</text>
<text x="243.60" y="1167.60" font-size="31" text-anchor="middle" font-weight="normal">4</text>
<text x="341.30" y="1167.60" font-size="31" text-anchor="middle" font-weight="normal">8</text>
<text x="440.60" y="1167.60" font-size="31" text-anchor="middle" font-weight="normal">12</text>
<text x="538.40" y="1167.60" font-size="31" text-anchor="middle" font-weight="normal">16</text>
<text x="635.80" y="1167.60" font-size="31" text-anchor="middle" font-weight="normal">20</text>
<text x="734.50" y="1167.60" font-size="31" text-anchor="middle" font-weight="normal">24</text>
<text x="457.70" y="1214.80" font-size="31" text-anchor="middle" font-weight="normal">Time (h)</text>
<text x="28.60" y="922.50" font-size="31" text-anchor="middle" font-weight="normal" transform="rotate(-90 28.60 922.50)">Concentration (µg/g)</text>
<text x="305.50" y="674.60" font-size="50" text-anchor="start" font-weight="bold" style="stroke:none">c</text>
<text x="359.60" y="673.40" font-size="35" text-anchor="start" font-weight="normal">Cornea</text>
<rect x="982.7" y="812.5" width="468.35" height="256.40" fill="#fff" stroke="#050505" stroke-width="3.5"/>
<line x1="1004.60" y1="847.10" x2="1125.00" y2="847.10" stroke="#050505" stroke-width="3.1" stroke-linecap="round"/>
<circle cx="1061.6" cy="846.4" r="7.7" fill="#fff" stroke="#050505" stroke-width="3.3"/>
<text transform="translate(1136.2,864.1) scale(0.985,1)" font-size="49.7">Azithromycin</text>
<line x1="1004.60" y1="937.50" x2="1125.00" y2="937.50" stroke="#050505" stroke-width="3.1" stroke-linecap="round"/>
<polygon points="1063.4,931.4 1055.3000000000002,947.9 1071.5,947.9" fill="#c4c4c4" stroke="#050505" stroke-width="3.0" stroke-linejoin="miter"/>
<text transform="translate(1135.8,954.2) scale(0.985,1)" font-size="49.7">Levofloxacin</text>
<line x1="1004.60" y1="1028.90" x2="1125.00" y2="1028.90" stroke="#050505" stroke-width="3.1" stroke-linecap="round"/>
<rect x="1053.5" y="1017.3" width="17.5" height="17.5" fill="#000"/>
<text transform="translate(1136.2,1044.2) scale(0.985,1)" font-size="49.7">Ofloxacin</text>
</g>
</svg>
</body></html>
